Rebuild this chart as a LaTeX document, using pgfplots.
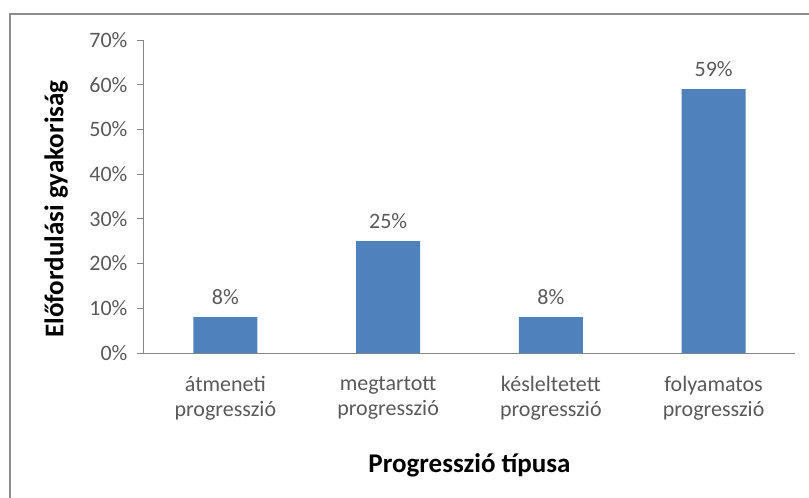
\documentclass[border=0pt]{standalone}
\usepackage{pgfplots}
\pgfplotsset{compat=1.18}
\usetikzlibrary{calc}
\usepackage{fontspec}
\setmainfont{Carlito}
\definecolor{barblue}{HTML}{4F81BD}
\definecolor{axgray}{HTML}{868686}
\definecolor{txtgray}{HTML}{595959}
\definecolor{framegray}{HTML}{8C8C8C}
\begin{document}
\begin{tikzpicture}[x=1pt,y=1pt]
\begin{axis}[
  scale only axis, width=651pt, height=313pt,
  xmin=-0.5, xmax=3.5, ymin=0, ymax=70,
  axis x line*=bottom, axis y line*=left,
  axis line style={axgray, line width=1pt, -},
  ybar, bar width=64pt, bar shift=0pt,
  xtick={0,1,2,3},
  xticklabels={{átmeneti\\progresszió},{megtartott\\progresszió},{késleltetett\\progresszió},{folyamatos\\progresszió}},
  x tick style={draw=none},
  xticklabel style={align=center, font=\fontsize{22}{25}\selectfont, text=txtgray, yshift=-13pt},
  ytick={0,10,20,30,40,50,60,70},
  yticklabels={0\%,10\%,20\%,30\%,40\%,50\%,60\%,70\%},
  y tick style={axgray, line width=1pt},
  tick align=outside, major tick length=7pt,
  yticklabel style={font=\fontsize{22}{25}\selectfont, text=txtgray, xshift=-6pt},
  ylabel={Előfordulási gyakoriság},
  ylabel style={at={(axis description cs:-0.135,0.46)}, anchor=center, font=\bfseries\fontsize{27}{30}\selectfont},
  xlabel={Progresszió típusa},
  xlabel style={at={(axis description cs:0.5,-0.358)}, anchor=center, font=\bfseries\fontsize{27}{30}\selectfont},
  nodes near coords={\pgfmathprintnumber[assume math mode=true]{\pgfplotspointmeta}\%},
  every node near coord/.append style={font=\fontsize{22}{25}\selectfont, text=txtgray, yshift=9pt},
  clip=false,
]
\addplot[fill=barblue, draw=none] coordinates {(0,8) (1,25) (2,8) (3,59)};
\coordinate (O) at (rel axis cs:0,0);
\end{axis}
\pgfresetboundingbox
\path[use as bounding box] ($(O)+(-144,-145)$) rectangle ($(O)+(665,353)$);
\begin{scope}
\clip ($(O)+(-144,-145)$) rectangle ($(O)+(665,353)$);
\draw[framegray, line width=2pt] ($(O)+(-134,-160)$) -- ($(O)+(-134,339)$) -- ($(O)+(680,339)$);
\end{scope}
\end{tikzpicture}
\end{document}
